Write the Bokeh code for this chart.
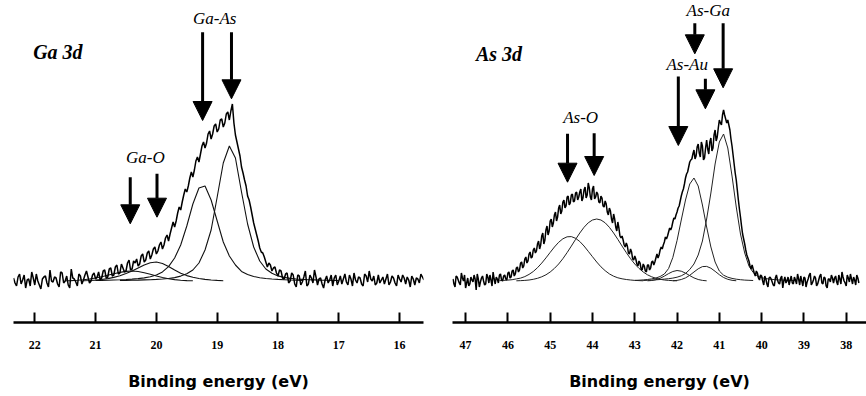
from bokeh.plotting import figure
from bokeh.models import Range1d, FixedTicker, Arrow, NormalHead, Label
from bokeh.layouts import row
from bokeh.embed import file_html
from bokeh.resources import INLINE

# ------------------------------------------------------------------ data
SPECTRUM_STEP = 0.025  # eV between measured points
FIT_STEP = 0.1         # eV between fitted-component samples

ga_ticks = [22, 21, 20, 19, 18, 17, 16]
as_ticks = [47, 46, 45, 44, 43, 42, 41, 40, 39, 38]

# Ga 3d measured spectrum (arb. units above background), from 22.35 eV downwards
ga_spectrum_start = 22.35
ga_spectrum = [
    3, -2, -5, 4, 7, -3, 1, 6, -7, 1, 2, -5, 9, 3, -4, 7, 0, -4, -8, 2,
    4, 5, -2, -6, 11, 0, -1, 4, 3, -3, -6, 9, 8, -2, 0, 5, -4, -7, 12, 3,
    2, -1, -5, 7, 5, -3, 1, 6, 10, 4, -2, 0, 6, 8, 2, 4, 9, 1, 3, 10,
    11, 3, 4, 12, 13, 5, 6, 14, 16, 7, 8, 17, 13, 9, 10, 18, 21, 11, 12, 20,
    18, 22, 15, 17, 25, 27, 19, 21, 28, 30, 22, 26, 32, 34, 27, 30, 36, 39, 32, 36,
    43, 46, 40, 47, 53, 59, 54, 60, 68, 74, 71, 79, 86, 92, 89, 95, 103, 109, 104, 111,
    120, 124, 119, 127, 135, 139, 133, 138, 147, 150, 142, 147, 155, 157, 149, 152, 161, 162, 154, 158,
    167, 169, 161, 170, 177, 158, 146, 139, 132, 125, 114, 108, 101, 95, 85, 81, 74, 66, 58, 52,
    46, 40, 33, 29, 28, 24, 19, 14, 18, 16, 10, 13, 14, 8, 5, 11, 10, 3, 2, 7,
    8, -2, 0, 8, 6, -3, -6, 6, 5, -4, -1, 4, 10, -5, -3, 6, 3, -2, 11, 4,
    -4, 2, 3, -3, -7, 1, 5, -2, 1, 6, -5, 3, 6, -4, 0, 5, -3, 2, 7, -1,
    -4, 6, 2, -5, 8, 1, -2, 4, 3, -3, -5, 7, 5, -1, 10, 2, 0, 5, -4, -2,
    6, -2, 1, 4, -3, 2, 7, -4, -1, 5, 3, -2, -5, 6, 2, -1, 6, 3, -3, 4,
    1, -6, 5, 2, -4, 3, 2, -2, 7, 4, 1,
]

# Ga 3d fitted components
ga_fit_as1_start = 20.6
ga_fit_as1 = [0.5, 0.6, 0.8, 0.9, 1.1, 1.3, 1.6, 2.0, 2.5, 3.4,
              4.9, 7.2, 11, 18, 31, 51, 84, 118, 135, 123,
              89, 57, 34, 20, 12, 7.7, 5.1, 3.6, 2.6, 2.0,
              1.6, 1.3, 1.1, 0.9, 0.8, 0.6, 0.5]
ga_fit_as2_start = 21.0
ga_fit_as2 = [0.5, 0.6, 0.8, 1.0, 1.2, 1.5, 1.9, 2.4, 3.1, 4.2,
              6.0, 9.1, 14.4, 23, 36, 55, 77, 93, 95, 81,
              60, 39, 25, 16, 9.6, 6.5, 4.5, 3.3, 2.5, 2.0,
              1.6, 1.3, 1.0, 0.8, 0.6]
ga_fit_o1_start = 21.2
ga_fit_o1 = [0.3, 0.5, 0.9, 1.5, 2.4, 3.6, 5.2, 7.4, 10, 13,
             16, 18.3, 19, 17.5, 14.5, 11, 7.8, 5.4, 3.7, 2.5,
             1.6, 1.0, 0.6, 0.3]
ga_fit_o2_start = 21.5
ga_fit_o2 = [0.2, 0.4, 0.7, 1.2, 2.0, 3.0, 4.3, 5.8, 7.3, 8.6,
             9.6, 10, 9.5, 8.3, 6.7, 5.0, 3.5, 2.3, 1.4, 0.8,
             0.4, 0.2]

# As 3d measured spectrum, from 47.30 eV downwards
as_spectrum_start = 47.30
as_spectrum = [
    2, -3, -6, 5, 4, 1, -2, -4, 8, 3, 0, 6, -7, -2, 3, -5, -3, 4, 1, -1,
    6, 2, -9, 7, 2, -6, -1, 3, 5, 0, -4, -3, 7, 4, -2, 6, 1, -5, 9, 2,
    -3, 4, 2, -2, 6, 7, 1, 0, 5, 6, 2, 1, 8, 9, 3, 4, 10, 11, 5, 7,
    13, 14, 9, 11, 18, 19, 13, 15, 22, 24, 18, 20, 27, 29, 23, 24, 31, 33, 28, 30,
    37, 40, 32, 36, 45, 48, 37, 41, 51, 55, 46, 50, 60, 62, 54, 58, 66, 69, 60, 64,
    73, 76, 67, 70, 79, 81, 73, 75, 84, 85, 76, 78, 86, 87, 79, 80, 88, 89, 81, 84,
    89, 92, 80, 83, 91, 94, 83, 86, 98, 93, 84, 81, 92, 95, 82, 84, 89, 87, 79, 78,
    85, 83, 75, 74, 80, 77, 69, 66, 73, 70, 62, 58, 67, 62, 54, 50, 59, 53, 45, 43,
    45, 41, 36, 34, 38, 35, 28, 27, 32, 29, 22, 21, 25, 22, 17, 15, 20, 18, 12, 11,
    17, 15, 10, 9, 16, 16, 11, 13, 19, 20, 16, 19, 23, 27, 23, 26, 31, 34, 32, 36,
    39, 44, 42, 45, 49, 53, 51, 54, 59, 63, 62, 66, 69, 73, 75, 80, 85, 89, 92, 97,
    103, 107, 109, 114, 119, 121, 122, 127, 131, 122, 125, 134, 137, 128, 124, 139, 135, 121, 123, 133,
    141, 132, 127, 139, 143, 130, 133, 146, 151, 140, 144, 153, 161, 158, 156, 166, 171, 166, 162, 158,
    161, 156, 151, 142, 135, 126, 117, 108, 101, 91, 81, 72, 64, 55, 47, 42, 37, 31, 26, 23,
    20, 15, 12, 16, 12, 8, 5, 10, 8, 3, 1, 6, 5, 0, -4, 5, 2, -3, -6, 3,
    4, 2, -1, -4, -5, 3, 6, 1, -2, -3, 3, 5, -7, 0, 4, -2, 0, 4, -4, 1,
    5, -2, -3, 4, 1, -3, 7, 2, -4, 5, 0, -5, 4, 3, -6, -1, 2, 6, 8, -4,
    -2, 1, 5, 3, -5, -3, 1, 5, 7, -2, -3, 4, 3, -5, -7, 2, 2, -1, 6, 3,
    -2, 3, 5, -1, -4, 6, 2, -3, 9, 4, 0, -2, -5, 6, 3, -1, 7, 2, -3, 4,
    1, -4, 6, 3, -2,
]

# As 3d fitted components
as_fit_o1_start = 46.2
as_fit_o1 = [0.3, 0.6, 0.9, 1.3, 2.1, 2.9, 4.4, 6.6, 9.5, 13.3,
             17.9, 23.1, 28.6, 34, 38.7, 42.2, 44.2, 44.4, 42.7, 39.5,
             35, 29.7, 24.3, 19, 14.2, 10.3, 7.1, 4.8, 3.2, 2.2,
             1.5, 1.0, 0.6, 0.4, 0.2]
as_fit_o2_start = 45.8
as_fit_o2 = [0.2, 0.35, 0.6, 1.0, 1.7, 2.7, 4.2, 6.2, 9.0, 12.6,
             17, 22.3, 28.4, 34.9, 41.6, 48, 53.7, 58.2, 61, 62,
             61, 58.2, 53.7, 48, 41.6, 34.9, 28.4, 22.3, 17, 12.6,
             9.0, 6.2, 4.2, 2.7, 1.7, 1.0, 0.6, 0.35, 0.2]
as_fit_au1_start = 42.7
as_fit_au1 = [0.2, 0.5, 1.3, 2.7, 4.9, 7.4, 9.5, 10.5, 9.8, 7.9, 5.4, 3.1, 1.5, 0.6, 0.2]
as_fit_au2_start = 42.1
as_fit_au2 = [0.2, 0.6, 1.5, 3.1, 5.7, 9.0, 12.2, 14.4, 14.6, 12.8, 9.7, 6.3, 3.5, 1.7, 0.7, 0.25]
as_fit_ga1_start = 43.0
as_fit_ga1 = [0.6, 0.8, 1.1, 1.5, 2.1, 3.0, 4.5, 7.0, 12.5, 23.5,
              40.5, 61, 81, 97, 103, 95, 76, 54, 34, 19,
              10, 5.8, 3.8, 2.6, 1.8, 1.3, 0.9, 0.7, 0.5]
as_fit_ga2_start = 42.8
as_fit_ga2 = [0.5, 0.7, 0.9, 1.2, 1.5, 1.9, 2.3, 2.9, 3.8, 5.2,
              7.5, 11.5, 17, 26, 40, 62, 88, 117, 139, 147,
              133, 105, 74, 47, 28, 15, 8.5, 5.0, 3.3, 2.4,
              1.8, 1.4, 1.1, 0.9, 0.7, 0.5, 0.4]


# ------------------------------------------------------------------ helpers
def energies(start, step, n):
    return [round(start - step * i, 4) for i in range(n)]


def make_panel(x_start, x_end, ticks, border_left, border_right, frame_width):
    p = figure(width=border_left + frame_width + border_right, height=396,
               x_range=Range1d(x_start, x_end), y_range=Range1d(-41.5, 280.5),
               y_axis_type=None, output_backend="svg", toolbar_location=None,
               min_border_left=border_left, min_border_right=border_right,
               min_border_top=0, min_border_bottom=74)
    p.outline_line_color = None
    p.grid.visible = False
    p.background_fill_color = "white"
    p.border_fill_color = "white"
    ax = p.xaxis[0]
    ax.ticker = FixedTicker(ticks=ticks)
    ax.minor_tick_line_color = None
    ax.major_tick_in = 10
    ax.major_tick_out = 0
    ax.major_tick_line_width = 2
    ax.major_tick_line_color = "black"
    ax.axis_line_width = 2.5
    ax.axis_line_color = "black"
    ax.major_label_text_font = "Liberation Serif"
    ax.major_label_text_font_style = "bold"
    ax.major_label_text_font_size = "12px"
    ax.major_label_text_color = "black"
    ax.major_label_standoff = 18
    ax.axis_label = "Binding energy (eV)"
    ax.axis_label_text_font = "DejaVu Sans"
    ax.axis_label_text_font_style = "bold"
    ax.axis_label_text_font_size = "16px"
    ax.axis_label_text_color = "black"
    ax.axis_label_standoff = 20
    return p


def add_arrow(p, e, y_top, y_tip):
    p.add_layout(Arrow(x_start=e, y_start=y_top, x_end=e, y_end=y_tip,
                       line_width=3, line_color="black",
                       end=NormalHead(size=19, fill_color="black", line_color="black",
                                      line_width=1)))


def add_label(p, text, e, y, size="17px", style="italic"):
    p.add_layout(Label(x=e, y=y, text=text, text_font="Liberation Serif",
                       text_font_style=style, text_font_size=size, text_color="black",
                       text_align="center", text_baseline="middle"))


# ------------------------------------------------------------------ Ga 3d panel
p1 = make_panel(22.35, 15.607, ga_ticks, 13, 10, 410)
for start, vals in [(ga_fit_as1_start, ga_fit_as1), (ga_fit_as2_start, ga_fit_as2),
                    (ga_fit_o1_start, ga_fit_o1), (ga_fit_o2_start, ga_fit_o2)]:
    p1.line(energies(start, FIT_STEP, len(vals)), vals, line_width=1.1, line_color="#111111")
p1.line(energies(ga_spectrum_start, SPECTRUM_STEP, len(ga_spectrum)), ga_spectrum,
        line_width=1.5, line_color="black")

add_arrow(p1, 19.24, 248.8, 160.5)
add_arrow(p1, 18.765, 248.8, 182.2)
add_arrow(p1, 20.43, 103.8, 57.2)
add_arrow(p1, 19.99, 107.2, 63.8)
add_label(p1, "Ga 3d", 21.62, 229, size="20px", style="bold italic")
add_label(p1, "Ga-As", 19.04, 262.2)
add_label(p1, "Ga-O", 20.18, 123.8)

# ------------------------------------------------------------------ As 3d panel
p2 = make_panel(47.31, 37.52, as_ticks, 19, 0, 414)
for start, vals in [(as_fit_o1_start, as_fit_o1), (as_fit_o2_start, as_fit_o2),
                    (as_fit_au1_start, as_fit_au1), (as_fit_au2_start, as_fit_au2),
                    (as_fit_ga1_start, as_fit_ga1), (as_fit_ga2_start, as_fit_ga2)]:
    p2.line(energies(start, FIT_STEP, len(vals)), vals, line_width=1.0, line_color="#222222")
p2.line(energies(as_spectrum_start, SPECTRUM_STEP, len(as_spectrum)), as_spectrum,
        line_width=1.5, line_color="black")

add_arrow(p2, 44.59, 147.2, 98.8)
add_arrow(p2, 43.96, 147.8, 105.5)
add_arrow(p2, 41.97, 204.5, 135.5)
add_arrow(p2, 41.33, 202.2, 172.2)
add_arrow(p2, 41.58, 257.8, 227.2)
add_arrow(p2, 40.91, 257.8, 193.2)
add_label(p2, "As 3d", 46.21, 227.2, size="20px", style="bold italic")
add_label(p2, "As-O", 44.28, 163.2)
add_label(p2, "As-Au", 41.76, 216.5)
add_label(p2, "As-Ga", 41.26, 270.5)

layout = row(p1, p2)
open("out.html", "w").write(file_html(layout, INLINE))
